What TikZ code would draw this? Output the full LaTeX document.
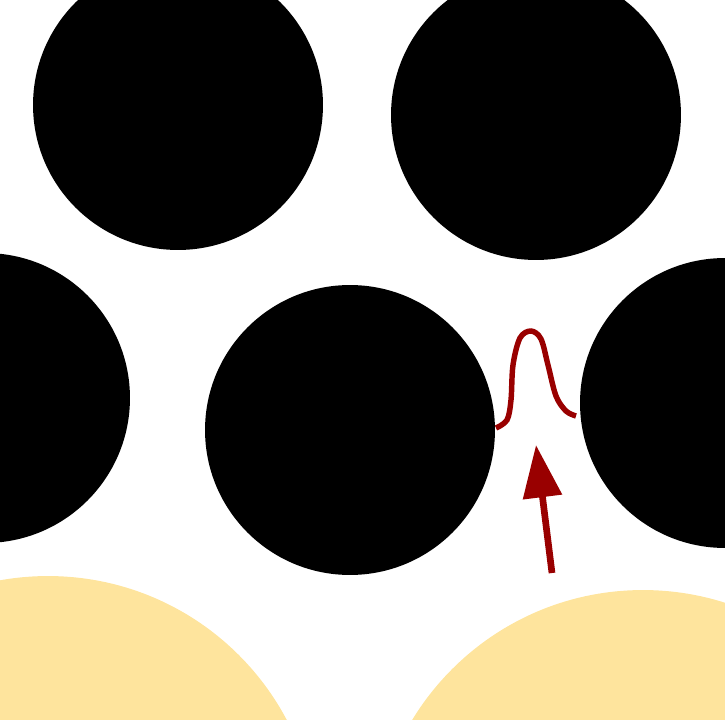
\documentclass[tikz,border=0pt]{standalone}
\usepackage{tikz}
\usetikzlibrary{arrows.meta}
\definecolor{GrainBlack}{HTML}{000000}
\definecolor{BinderYellow}{HTML}{FEE49D}
\definecolor{WaveRed}{HTML}{990000}

\begin{document}
\begin{tikzpicture}[
      x=0.02cm, y=-0.02cm,
      grain/.style={circle, fill=GrainBlack, inner sep=0pt, minimum size=5.8cm},
      binder/.style={circle, fill=BinderYellow, inner sep=0pt, minimum size=10.8cm},
      wave/.style={WaveRed, line width=3.1pt},
      arr/.style={-{Triangle[length=1.05cm, width=0.76cm]}, WaveRed, line width=3.8pt}
    ]
      \useasboundingbox (0,0) rectangle (725,720);
      \clip (0,0) rectangle (725,720);
      % grains
      \node[grain] (tl) at (178,105) {};
      \node[grain] (tr) at (536,115) {};
      \node[grain] (ml) at (-15,398) {};
      \node[grain] (mc) at (350,430) {};
      \node[grain] (mr) at (725,403) {};
      % binder
      \node[binder] (bl) at (48,846) {};
      \node[binder] (br) at (643,860) {};
      % pulse and direction
      \coordinate (ws) at (496,428);
      \coordinate (we) at (576,416);
      \draw[wave] plot[smooth, tension=0.55] coordinates {(ws) (507,420) (511,400) (513,365) (520,338) (531,331) (541,339) (548,365) (556,396) (566,411) (we)};
      \coordinate (tail) at (552,573);
      \coordinate (tip) at (536,445);
      \draw[arr] (tail) -- (tip);
    \end{tikzpicture}
\end{document}
